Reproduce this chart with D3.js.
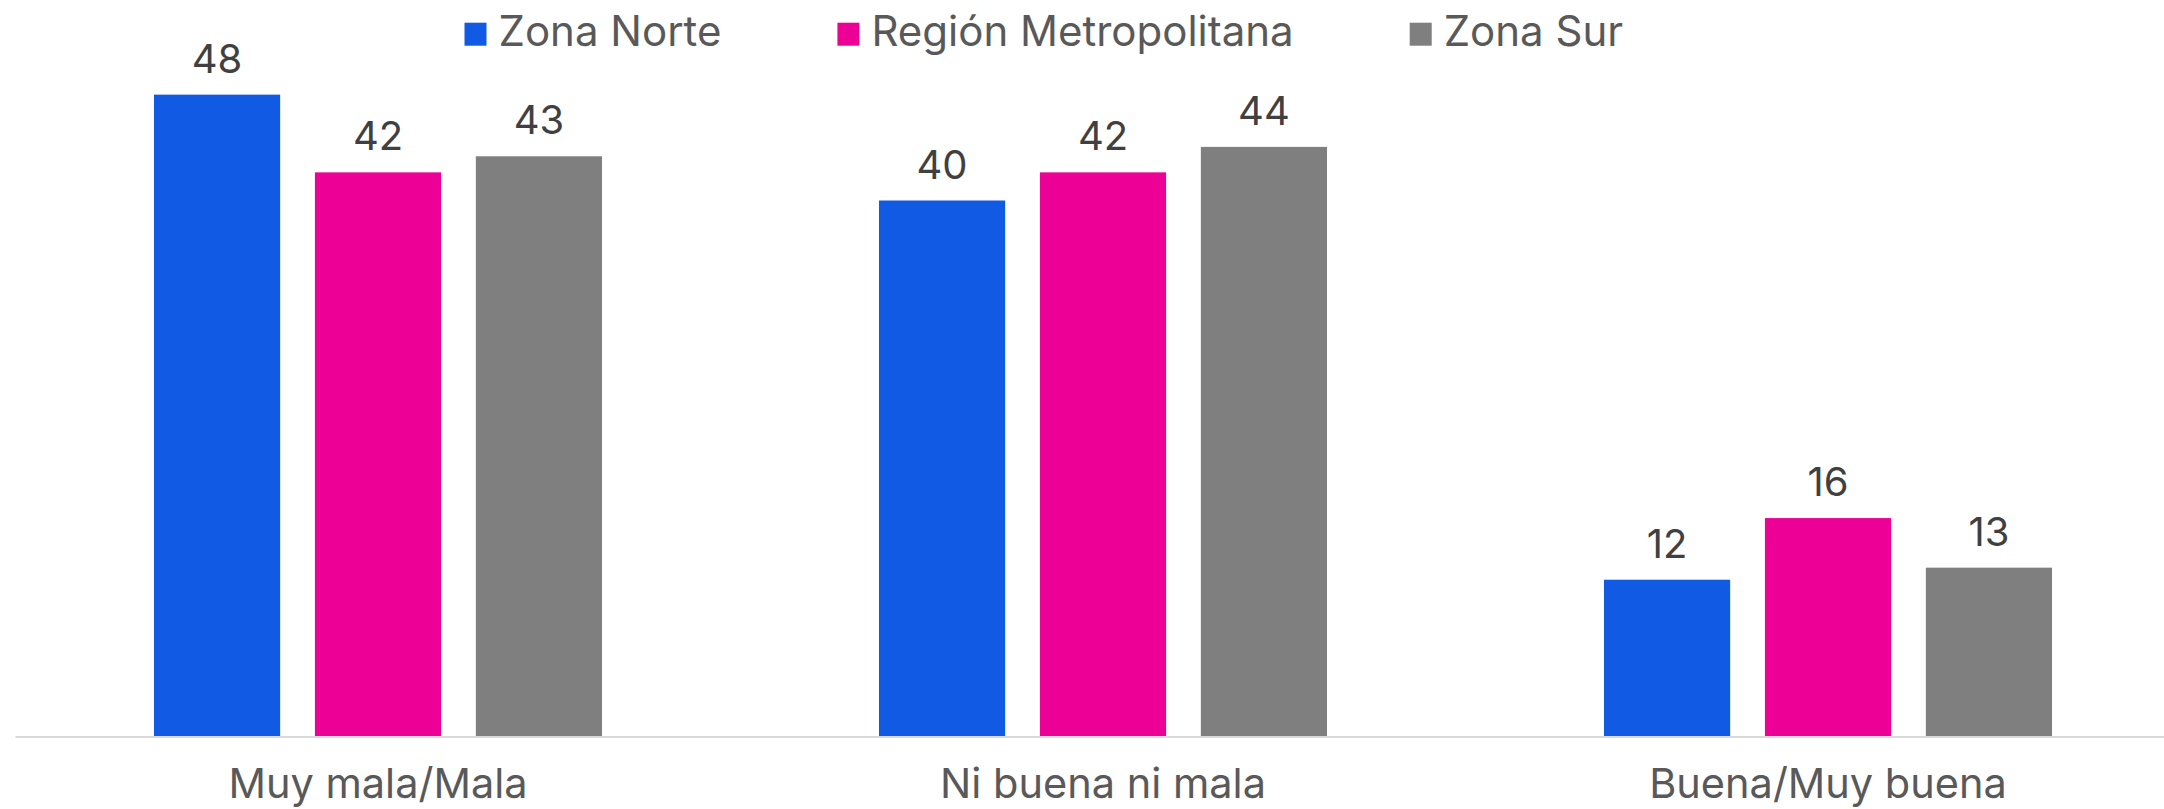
<!DOCTYPE html>
<html>
<head>
<meta charset="utf-8">
<script src="https://cdn.jsdelivr.net/npm/d3@7"></script>
<style>
  html, body { margin: 0; padding: 0; background: #fff; }
  svg { display: block; font-family: Inter, "Noto Sans", sans-serif; }
</style>
</head>
<body>
<div id="chart"></div>
<script>
// categories and series
var categories = ['Muy mala/Mala', 'Ni buena ni mala', 'Buena/Muy buena'];
var seriesNames = ['Zona Norte', 'Región Metropolitana', 'Zona Sur'];
var seriesColors = ['#115ae3', '#ec0096', '#7f7f7f'];
var zonaNorte = [47.9, 40.0, 11.7];
var regionMetropolitana = [42.1, 42.1, 16.3];
var zonaSur = [43.3, 44.0, 12.6];
var seriesValues = [zonaNorte, regionMetropolitana, zonaSur];

var width = 2164, height = 809;
var baseY = 736.5;

var svg = d3.select('#chart').append('svg')
    .attr('width', width)
    .attr('height', height);

var x0 = d3.scaleBand()
    .domain(categories)
    .range([15.5, 2190.5])
    .paddingInner(0.382)
    .paddingOuter(0.191);

var x1 = d3.scaleBand()
    .domain(seriesNames)
    .range([0, x0.bandwidth()])
    .paddingInner(0.216)
    .paddingOuter(0);

var y = d3.scaleLinear()
    .domain([0, 50])
    .range([baseY, baseY - 670]);

// flatten into bar records
var bars = [];
categories.forEach(function (c, i) {
    seriesNames.forEach(function (s, j) {
        bars.push({cat: c, series: s, value: seriesValues[j][i], color: seriesColors[j]});
    });
});

svg.append('g').selectAll('rect')
    .data(bars)
    .enter().append('rect')
    .attr('x', function (d) { return x0(d.cat) + x1(d.series); })
    .attr('y', function (d) { return y(d.value); })
    .attr('width', x1.bandwidth())
    .attr('height', function (d) { return y(0) - y(d.value); })
    .attr('fill', function (d) { return d.color; });

// value labels
svg.append('g').selectAll('text')
    .data(bars)
    .enter().append('text')
    .attr('x', function (d) { return x0(d.cat) + x1(d.series) + x1.bandwidth() / 2; })
    .attr('y', function (d) { return y(d.value) - 22; })
    .attr('text-anchor', 'middle')
    .attr('font-size', 40)
    .attr('fill', '#404040')
    .text(function (d) { return Math.round(d.value); });

// baseline
svg.append('line')
    .attr('x1', 15.5).attr('x2', width)
    .attr('y1', y(0) + 0.5).attr('y2', y(0) + 0.5)
    .attr('stroke', '#d9d9d9')
    .attr('stroke-width', 2);

// category axis (no ticks, no domain)
var xAxis = d3.axisBottom(x0).tickSize(0).tickPadding(0);
var gx = svg.append('g')
    .attr('transform', 'translate(0,' + 798 + ')')
    .call(xAxis);
gx.select('.domain').remove();
gx.selectAll('text')
    .attr('dy', 0)
    .attr('y', 0)
    .attr('font-size', 41.5)
    .attr('font-family', 'Inter, "Noto Sans", sans-serif')
    .attr('fill', '#595959');

// legend
var legend = svg.append('g');
var lx = 464.5;
seriesNames.forEach(function (s, j) {
    legend.append('rect')
        .attr('x', lx).attr('y', 22.7)
        .attr('width', 22).attr('height', 23)
        .attr('fill', seriesColors[j]);
    var t = legend.append('text')
        .attr('x', lx + 34).attr('y', 45.7)
        .attr('font-size', 42)
        .attr('fill', '#595959')
        .text(s);
    lx = lx + 34 + t.node().getComputedTextLength() + 116;
});
</script>
</body>
</html>
